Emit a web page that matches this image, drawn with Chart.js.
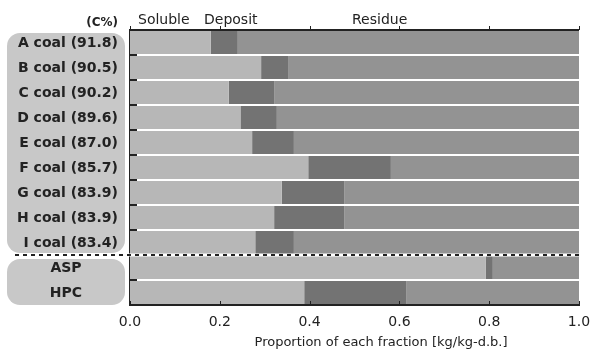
<!DOCTYPE html>
<html>

<head>
    <title>Fractions</title>
    <script src="https://cdn.jsdelivr.net/npm/chart.js"></script>
    <style>
        body {
            margin: 0;
            background: #fff;
        }

        .chart-container {
            width: 592px;
            height: 351px;
        }
    </style>
</head>

<body>
    <div class="chart-container">
        <canvas id="fractionChart"></canvas>
    </div>

    <script>
        // Data
        var categories = ['A coal (91.8)', 'B coal (90.5)', 'C coal (90.2)', 'D coal (89.6)', 'E coal (87.0)',
            'F coal (85.7)', 'G coal (83.9)', 'H coal (83.9)', 'I coal (83.4)', 'ASP', 'HPC'];
        var soluble = [0.180, 0.292, 0.220, 0.246, 0.272, 0.397, 0.338, 0.321, 0.279, 0.792, 0.388];
        var deposit = [0.060, 0.060, 0.101, 0.081, 0.093, 0.184, 0.139, 0.156, 0.086, 0.016, 0.228];
        var residue = [0.760, 0.648, 0.679, 0.673, 0.635, 0.419, 0.523, 0.523, 0.635, 0.192, 0.384];
        var xTicks = [0.0, 0.2, 0.4, 0.6, 0.8, 1.0];
        var coalCount = 9;

        var FONT = '"DejaVu Sans", Verdana, sans-serif';

        // Draws the grey label boxes, labels, header texts, dashed divider and small tick marks
        var decorPlugin = {
            id: 'decor',
            beforeDatasetsDraw: function (chart) {
                var ctx = chart.ctx;
                var y = chart.scales.y;
                var pitch = y.getPixelForValue(1) - y.getPixelForValue(0);

                function box(top, bottom) {
                    ctx.save();
                    ctx.fillStyle = '#c8c8c8';
                    ctx.beginPath();
                    ctx.roundRect(7, top, 118, bottom - top, 13);
                    ctx.fill();
                    ctx.restore();
                }
                box(y.getPixelForValue(0) - pitch / 2 + 3, y.getPixelForValue(coalCount - 1) + pitch / 2 - 2);
                box(y.getPixelForValue(coalCount) - pitch / 2 + 4, y.getPixelForValue(categories.length - 1) + pitch / 2);
            },
            afterDatasetsDraw: function (chart) {
                var ctx = chart.ctx;
                var x = chart.scales.x;
                var y = chart.scales.y;
                var area = chart.chartArea;
                var pitch = y.getPixelForValue(1) - y.getPixelForValue(0);

                ctx.save();
                // row labels
                ctx.fillStyle = '#222';
                ctx.font = 'bold 14px ' + FONT;
                ctx.textBaseline = 'middle';
                for (var i = 0; i < categories.length; i++) {
                    var py = y.getPixelForValue(i) + 1;
                    if (i < coalCount) {
                        ctx.textAlign = 'right';
                        ctx.fillText(categories[i], 118, py);
                    } else {
                        ctx.textAlign = 'center';
                        ctx.fillText(categories[i], 66, py);
                    }
                }

                // header texts
                ctx.textBaseline = 'alphabetic';
                ctx.textAlign = 'right';
                ctx.font = 'bold 12px ' + FONT;
                ctx.fillText('(C%)', 118, 26);
                ctx.textAlign = 'left';
                ctx.font = '14px ' + FONT;
                ctx.fillText('Soluble', 138, 24);
                ctx.fillText('Deposit', 204, 24);
                ctx.fillText('Residue', 352, 24);

                // x axis title
                ctx.textAlign = 'center';
                ctx.font = '13px ' + FONT;
                ctx.fillText('Proportion of each fraction [kg/kg-d.b.]', 381, 346);

                // top border
                ctx.strokeStyle = '#222';
                ctx.lineWidth = 2;
                ctx.beginPath();
                ctx.moveTo(area.left, area.top);
                ctx.lineTo(area.right, area.top);
                ctx.stroke();

                // tick marks: top outward, bottom inward
                ctx.lineWidth = 1;
                xTicks.forEach(function (v) {
                    var px = Math.round(x.getPixelForValue(v)) + 0.5;
                    ctx.beginPath();
                    ctx.moveTo(px, area.top - 4);
                    ctx.lineTo(px, area.top);
                    ctx.moveTo(px, area.bottom);
                    ctx.lineTo(px, area.bottom - 4);
                    ctx.stroke();
                });

                // left ticks at row boundaries (inward)
                ctx.lineWidth = 2;
                for (var k = 1; k < categories.length; k++) {
                    var by = y.getPixelForValue(k) - pitch / 2;
                    ctx.beginPath();
                    ctx.moveTo(area.left, by);
                    ctx.lineTo(area.left + 7, by);
                    ctx.stroke();
                }

                // dashed divider between coals and ASP/HPC
                var dy = y.getPixelForValue(coalCount) - pitch / 2;
                ctx.strokeStyle = '#fff';
                ctx.lineWidth = 3;
                ctx.beginPath();
                ctx.moveTo(15, dy);
                ctx.lineTo(area.right, dy);
                ctx.stroke();
                ctx.strokeStyle = '#222';
                ctx.lineWidth = 2;
                ctx.setLineDash([4, 4]);
                ctx.beginPath();
                ctx.moveTo(15, dy);
                ctx.lineTo(area.right, dy);
                ctx.stroke();
                ctx.restore();
            }
        };

        var ctx = document.getElementById('fractionChart').getContext('2d');
        var fractionChart = new Chart(ctx, {
            type: 'bar',
            data: {
                labels: categories,
                datasets: [{
                    label: 'Soluble',
                    data: soluble,
                    backgroundColor: '#b7b7b7'
                }, {
                    label: 'Deposit',
                    data: deposit,
                    backgroundColor: '#737373'
                }, {
                    label: 'Residue',
                    data: residue,
                    backgroundColor: '#939393'
                }]
            },
            options: {
                indexAxis: 'y',
                responsive: true,
                maintainAspectRatio: false,
                animation: false,
                datasets: {
                    bar: {
                        categoryPercentage: 1.0,
                        barPercentage: 0.92
                    }
                },
                layout: {
                    padding: { left: 129, right: 13, top: 30, bottom: 0 }
                },
                plugins: {
                    legend: { display: false },
                    tooltip: { enabled: false }
                },
                scales: {
                    x: {
                        stacked: true,
                        min: 0,
                        max: 1,
                        afterFit: function (s) {
                            s.height = 46;
                            s.paddingLeft = 0;
                            s.paddingRight = 0;
                        },
                        afterBuildTicks: function (s) {
                            s.ticks = xTicks.map(function (v) { return { value: v }; });
                        },
                        ticks: {
                            padding: 1,
                            color: '#222',
                            font: { family: FONT, size: 14 },
                            callback: function (v) { return Number(v).toFixed(1); }
                        },
                        grid: { display: false },
                        border: { display: true, color: '#222', width: 2 }
                    },
                    y: {
                        stacked: true,
                        afterFit: function (s) { s.width = 1; },
                        ticks: { display: false },
                        grid: { display: false },
                        border: { display: true, color: '#222', width: 2 }
                    }
                }
            },
            plugins: [decorPlugin]
        });
    </script>
</body>

</html>
